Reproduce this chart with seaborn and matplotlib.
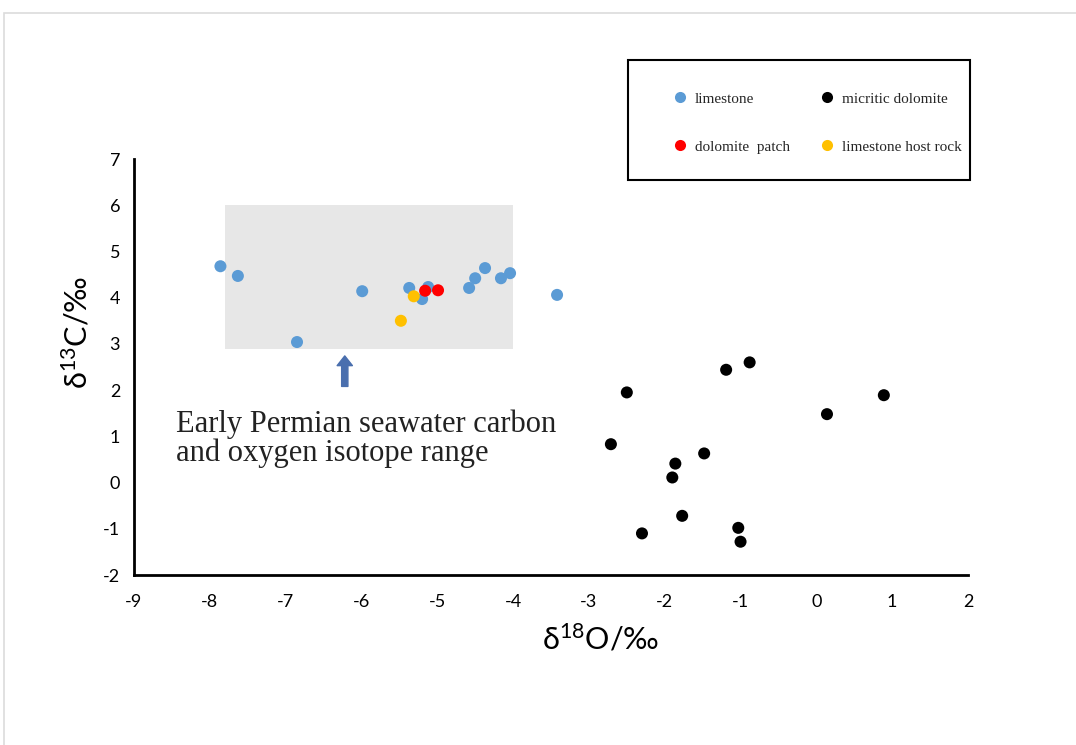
import matplotlib
matplotlib.use("Agg")
import matplotlib.pyplot as plt
import seaborn as sns
import pandas as pd
from matplotlib.lines import Line2D
from matplotlib.patches import Rectangle

# ---- data ----
limestone_x = [-7.86, -7.63, -6.85, -5.99, -5.37, -5.20, -5.12, -4.58, -4.50, -4.37, -4.16, -4.04, -3.42]
limestone_y = [4.68, 4.47, 3.04, 4.14, 4.21, 3.97, 4.23, 4.21, 4.42, 4.64, 4.42, 4.53, 4.06]
dolomite_x = [-2.50, -2.71, -1.19, -0.88, 0.14, 0.89, -1.48, -1.86, -1.90, -1.77, -2.30, -1.03, -1.00]
dolomite_y = [1.95, 0.83, 2.44, 2.60, 1.48, 1.89, 0.63, 0.41, 0.11, -0.72, -1.10, -0.98, -1.28]
host_x = [-5.31, -5.48]
host_y = [4.03, 3.50]
patch_x = [-5.16, -4.99]
patch_y = [4.15, 4.16]

categories = ["limestone", "micritic dolomite", "limestone host rock", "dolomite  patch"]
colors = {"limestone": "#5B9BD5", "micritic dolomite": "#000000",
          "limestone host rock": "#FFC000", "dolomite  patch": "#FF0000"}

df = pd.concat([
    pd.DataFrame({"x": limestone_x, "y": limestone_y, "type": "limestone"}),
    pd.DataFrame({"x": dolomite_x, "y": dolomite_y, "type": "micritic dolomite"}),
    pd.DataFrame({"x": host_x, "y": host_y, "type": "limestone host rock"}),
    pd.DataFrame({"x": patch_x, "y": patch_y, "type": "dolomite  patch"}),
], ignore_index=True)

range_x = [-7.8, -4.0]
range_y = [2.9, 6.0]
xticks = list(range(-9, 3))
yticks = list(range(-2, 8))

sns.set_theme(style="white")
plt.rcParams['font.family'] = ['Lato', 'DejaVu Sans']
plt.rcParams['mathtext.default'] = 'regular'

fig = plt.figure(figsize=(10.76, 7.45), dpi=100)
ax = fig.add_axes([134/1076, 1-575/745, (968-134)/1076, (575-159)/745])

# outer light frame
fig.patches.append(Rectangle((4/1076, -0.02), 1.1, 1-13/745+0.02, transform=fig.transFigure,
                             fill=False, edgecolor="#dcdcdc", linewidth=1.2))
# legend frame
fig.patches.append(Rectangle((628/1076, 1-180/745), (970-628)/1076, 120/745, transform=fig.transFigure,
                             fill=False, edgecolor="black", linewidth=1.5))

ax.fill_between(range_x, range_y[0], range_y[1], color="#e7e7e7", linewidth=0, zorder=0)

sns.scatterplot(data=df, x="x", y="y", hue="type", hue_order=categories, palette=colors,
                s=75, linewidth=0, legend=False, ax=ax, zorder=3)

ax.set_xlim(-9, 2)
ax.set_ylim(-2, 7)
ax.set_xticks(xticks)
ax.set_yticks(yticks)
ax.set_xticklabels([str(t) for t in xticks])
ax.set_yticklabels([str(t) for t in yticks])
for s in ["top", "right"]:
    ax.spines[s].set_visible(False)
for s in ["left", "bottom"]:
    ax.spines[s].set_linewidth(2.0)
    ax.spines[s].set_color("black")
ax.tick_params(direction="in", length=6, width=2, labelsize=13, colors="black", pad=10)
ax.tick_params(axis="x", pad=14)

ax.set_xlabel("δ$^{18}$O/‰", fontsize=22, color="black")
ax.set_ylabel("δ$^{13}$C/‰", fontsize=22, color="black")
ax.xaxis.set_label_coords(0.56, -0.115)
ax.yaxis.set_label_coords(-0.05, 0.583)

ax.annotate("", xy=(-6.22, 2.74), xytext=(-6.22, 2.08),
            arrowprops=dict(arrowstyle="simple,head_width=1.1,head_length=0.7,tail_width=0.45",
                            color="#4a6fae", mutation_scale=10, shrinkA=0, shrinkB=0))
ax.text(-8.45, 1.58, "Early Permian seawater carbon\nand oxygen isotope range",
        fontsize=22, family="Liberation Serif", color="#222222", va="top", ha="left",
        linespacing=0.98)

# legend
leg_order = ["limestone", "dolomite  patch", "micritic dolomite", "limestone host rock"]
handles = [Line2D([], [], linestyle="none", marker="o", markersize=8,
                  markerfacecolor=colors[c], markeredgewidth=0) for c in leg_order]
leg = fig.legend(handles, leg_order, ncol=2, loc="upper left",
                 bbox_to_anchor=(661.5/1076, 1-92/745),
                 frameon=False, prop={"family": "Liberation Serif", "size": 11},
                 borderpad=0, labelspacing=2.25, handlelength=2.4, handletextpad=-0.2,
                 columnspacing=1.2, borderaxespad=0)

fig.savefig("out.png", dpi=100)
